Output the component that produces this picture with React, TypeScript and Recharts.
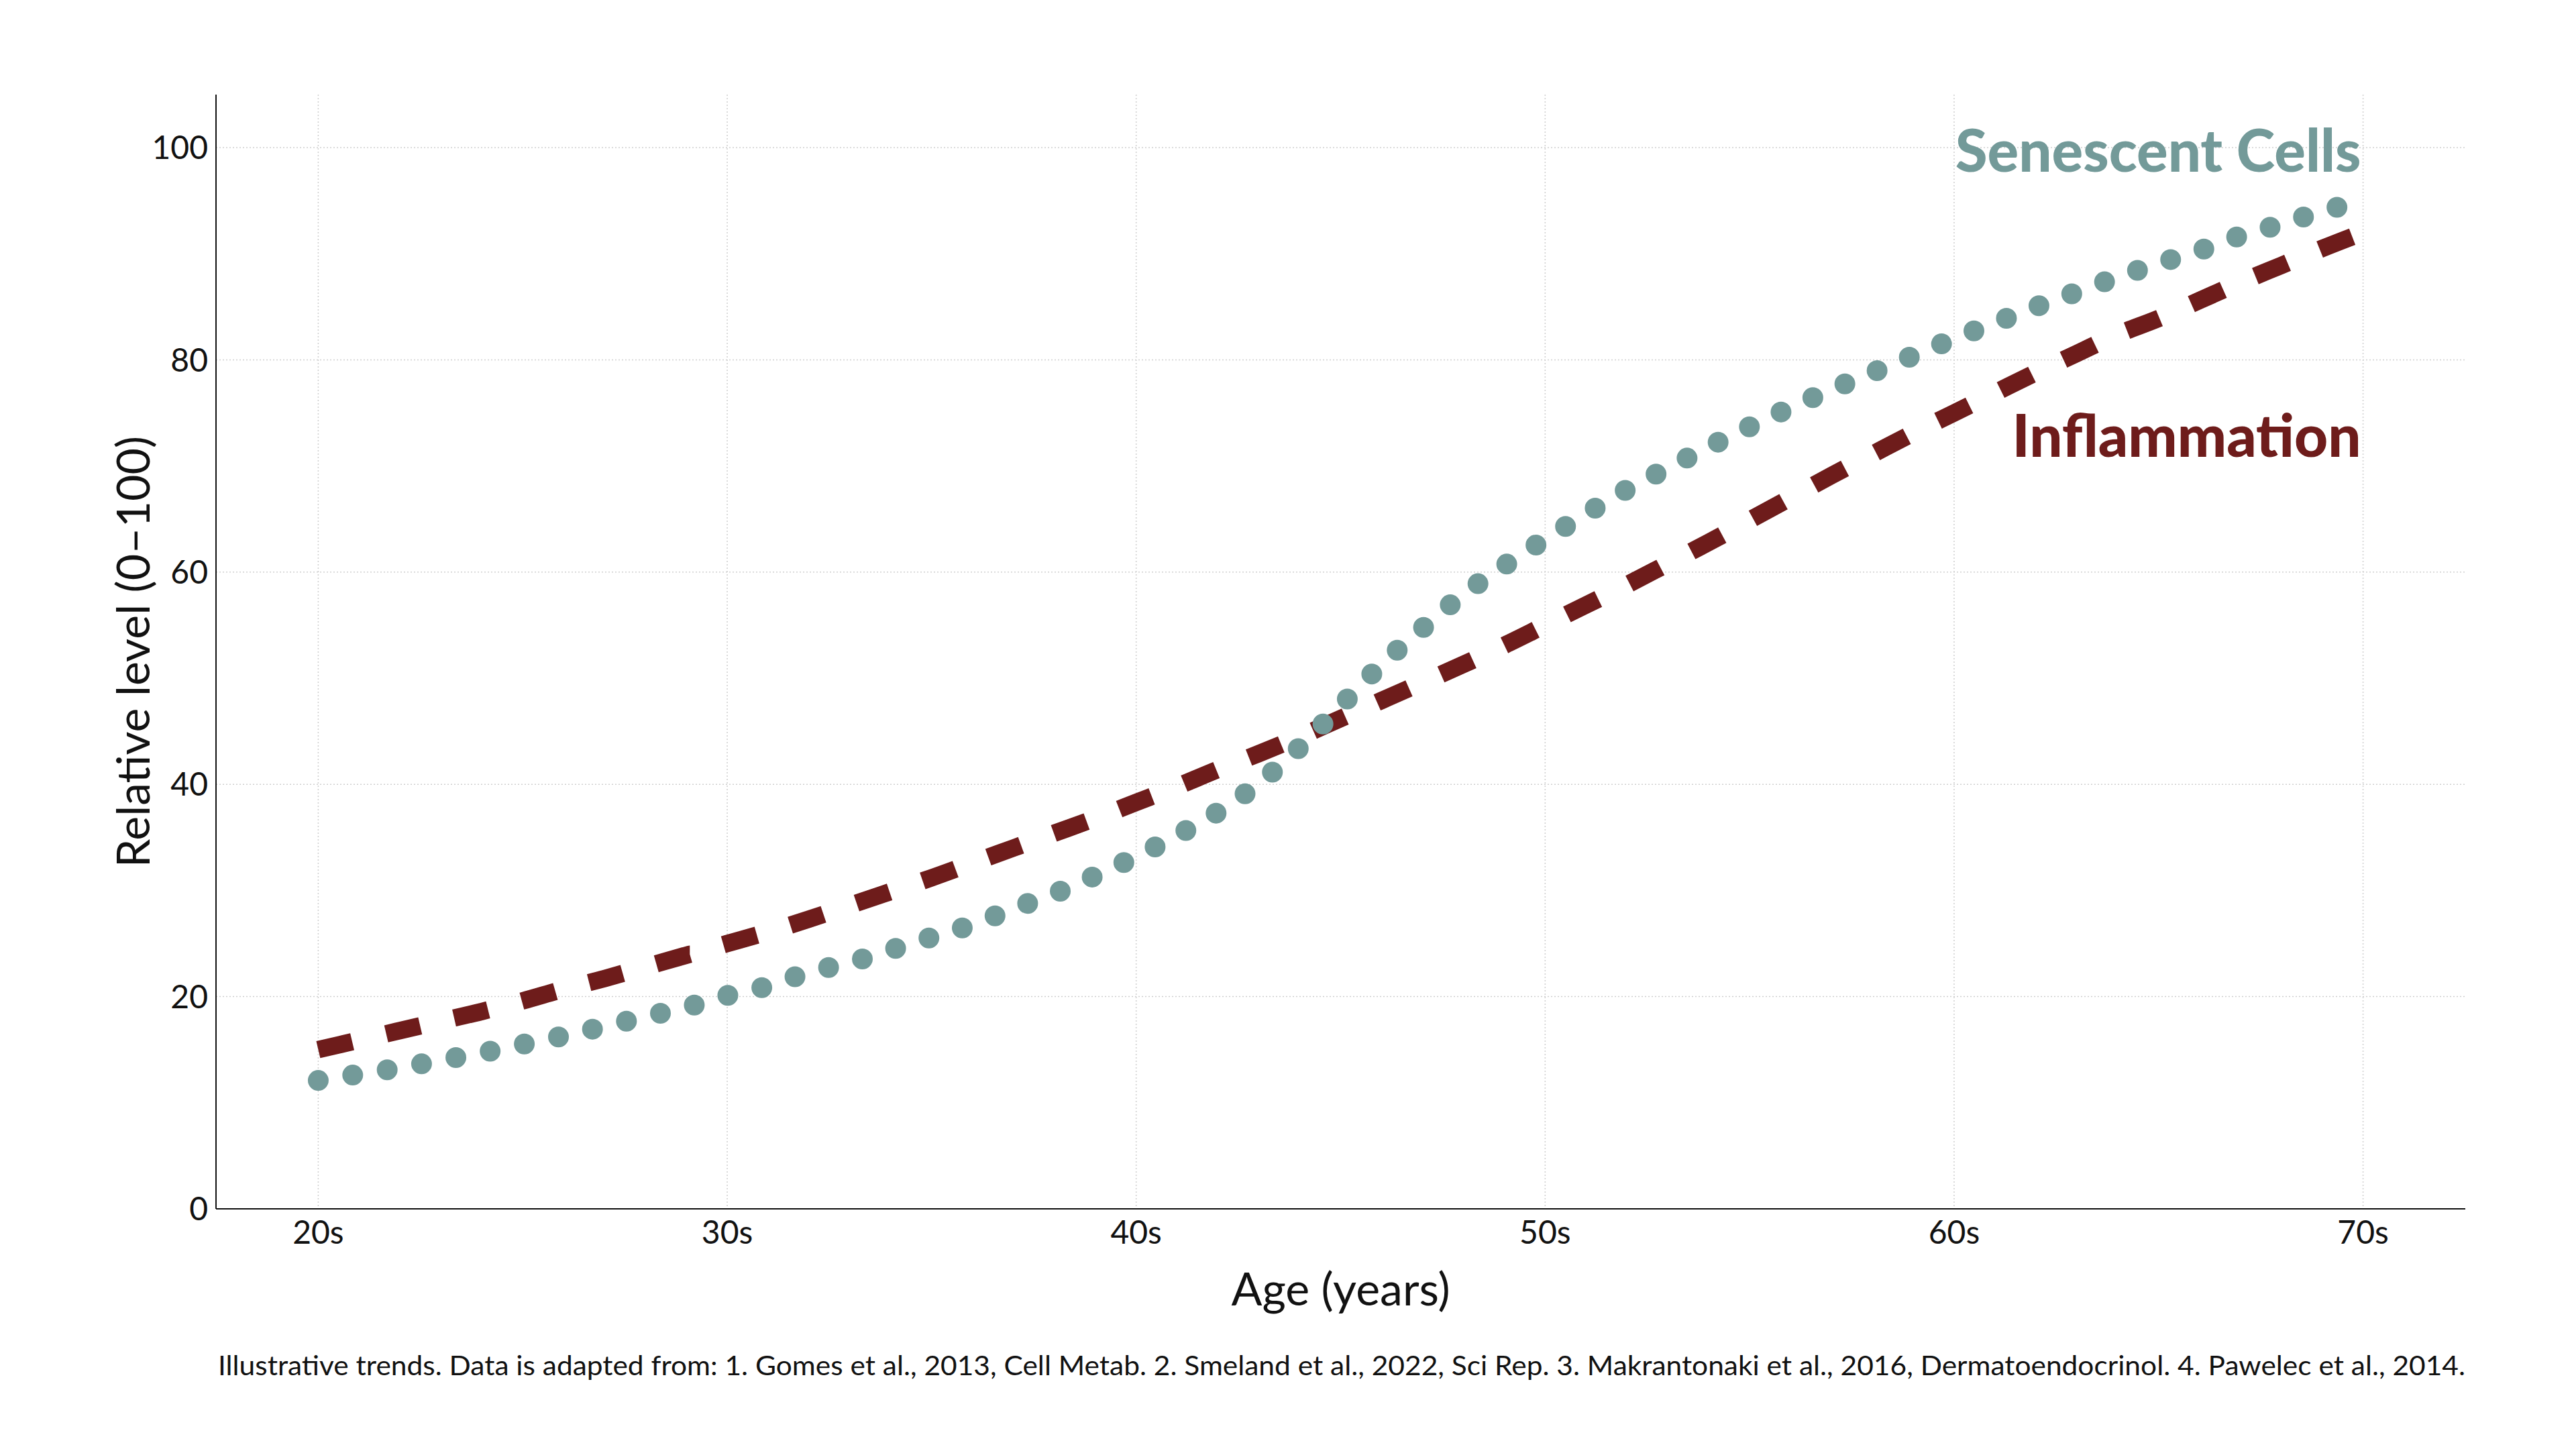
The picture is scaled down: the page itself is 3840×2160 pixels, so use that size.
import { LineChart, Line, XAxis, YAxis, CartesianGrid, ReferenceDot, Customized } from "recharts";

const AGES = [
  20, 21, 22, 23, 24, 25, 26, 27, 28, 29,
  30, 31, 32, 33, 34, 35, 36, 37, 38, 39,
  40, 41, 42, 43, 44, 45, 46, 47, 48, 49,
  50, 51, 52, 53, 54, 55, 56, 57, 58, 59,
  60, 61, 62, 63, 64, 65, 66, 67, 68, 69, 70,
];

const SENESCENT = [
  12.1, 12.7, 13.3, 14.0, 14.7, 15.5, 16.3, 17.2, 18.1, 19.0,
  20.1, 21.0, 22.3, 23.2, 24.4, 25.6, 26.8, 28.3, 29.7, 31.4,
  33.2, 35.2, 37.4, 40.1, 43.5, 47.4, 51.3, 54.7, 57.9, 60.6,
  63.1, 65.5, 67.8, 69.8, 71.8, 73.7, 75.5, 77.2, 78.8, 80.4,
  82.0, 83.5, 85.0, 86.4, 87.8, 89.1, 90.3, 91.7, 92.8, 94.0, 95.0,
];

const INFLAMMATION = [
  15.0, 15.9, 16.8, 17.7, 18.6, 19.6, 20.7, 21.7, 22.8, 23.9,
  25.0, 26.1, 27.3, 28.6, 29.9, 31.2, 32.6, 34.0, 35.4, 36.8,
  38.3, 39.8, 41.4, 42.9, 44.5, 46.2, 47.9, 49.6, 51.3, 53.1,
  55.0, 56.9, 58.8, 60.8, 62.8, 64.9, 67.0, 69.1, 71.1, 73.1,
  75.0, 76.9, 78.8, 80.6, 82.4, 83.9, 85.6, 87.3, 88.9, 90.5, 92.0,
];

const X_TICKS = [20, 30, 40, 50, 60, 70];
const X_TICK_LABELS = ["20s", "30s", "40s", "50s", "60s", "70s"];
const Y_TICKS = [0, 20, 40, 60, 80, 100];

const SERIES_LABELS = [
  { name: "Senescent Cells", age: 70, level: 99.7 },
  { name: "Inflammation", age: 70, level: 72.8 },
];

const FOOTNOTE =
  "Illustrative trends. Data is adapted from: 1. Gomes et al., 2013, Cell Metab. 2. Smeland et al., 2022, Sci Rep. 3. Makrantonaki et al., 2016, Dermatoendocrinol. 4. Pawelec et al., 2014.";

const TEAL = "#739a99";
const MAROON = "#6e1c1b";
const FONT = "Lato, 'Open Sans', sans-serif";

// plot box in page pixels
const W = 3840;
const H = 2160;
const PLOT_LEFT = 322;
const PLOT_RIGHT = 3675;
const PLOT_TOP = 141;
const PLOT_BOTTOM = 1802;
const Y_AXIS_W = 100;
const X_AXIS_H = 80;

const data = AGES.map((age, i) => ({
  age,
  senescent: SENESCENT[i],
  inflammation: INFLAMMATION[i],
}));

const Titles = () => (
  <g fontFamily={FONT} fill="#111">
    <text
      x={(PLOT_LEFT + PLOT_RIGHT) / 2}
      y={1946}
      textAnchor="middle"
      fontSize={68}
    >
      Age (years)
    </text>
    <text
      transform={`translate(223, ${(PLOT_TOP + PLOT_BOTTOM) / 2}) rotate(-90)`}
      textAnchor="middle"
      fontSize={68}
    >
      Relative level (0–100)
    </text>
    <text
      x={PLOT_LEFT + 3}
      y={2050}
      fontSize={40}
      textLength={PLOT_RIGHT - PLOT_LEFT - 3}
      lengthAdjust="spacingAndGlyphs"
    >
      {FOOTNOTE}
    </text>
  </g>
);

export default function App() {
  return (
    <div style={{ position: "absolute", left: 0, top: 0, width: W, height: H, background: "#fff" }}>
      <LineChart
        width={W}
        height={H}
        data={data}
        margin={{
          top: PLOT_TOP,
          right: W - PLOT_RIGHT,
          bottom: H - PLOT_BOTTOM - X_AXIS_H,
          left: PLOT_LEFT - Y_AXIS_W,
        }}
      >
        <CartesianGrid
          stroke="#cfcfcf"
          strokeWidth={1.5}
          strokeDasharray="2 3"
          horizontalValues={Y_TICKS.slice(1)}
          verticalValues={X_TICKS}
        />
        <XAxis
          dataKey="age"
          type="number"
          domain={[17.5, 72.5]}
          ticks={X_TICKS}
          tickFormatter={(v) => X_TICK_LABELS[X_TICKS.indexOf(v)]}
          height={X_AXIS_H}
          tickLine={false}
          tickSize={0}
          tickMargin={18}
          axisLine={{ stroke: "#111", strokeWidth: 2 }}
          tick={{ fill: "#111", fontSize: 48, fontFamily: FONT }}
        />
        <YAxis
          type="number"
          domain={[0, 105]}
          ticks={Y_TICKS}
          width={Y_AXIS_W}
          tickLine={false}
          tickSize={0}
          tickMargin={12}
          axisLine={{ stroke: "#111", strokeWidth: 2 }}
          tick={{ fill: "#111", fontSize: 48, fontFamily: FONT }}
        />
        <Line
          dataKey="inflammation"
          type="monotone"
          stroke={MAROON}
          strokeWidth={26}
          strokeDasharray="52 52"
          strokeLinecap="butt"
          dot={false}
          activeDot={false}
          isAnimationActive={false}
        />
        <Line
          dataKey="senescent"
          type="monotone"
          stroke={TEAL}
          strokeWidth={31}
          strokeDasharray="0 52"
          strokeLinecap="round"
          dot={false}
          activeDot={false}
          isAnimationActive={false}
        />
        {SERIES_LABELS.map((s, i) => (
          <ReferenceDot
            key={s.name}
            x={s.age}
            y={s.level}
            r={1}
            fill="none"
            stroke="none"
            label={{
              value: s.name,
              position: "left",
              offset: 2,
              fill: i === 0 ? TEAL : MAROON,
              fontSize: 87,
              fontWeight: 900,
              fontFamily: FONT,
            }}
          />
        ))}
        <Customized component={Titles} />
      </LineChart>
    </div>
  );
}
